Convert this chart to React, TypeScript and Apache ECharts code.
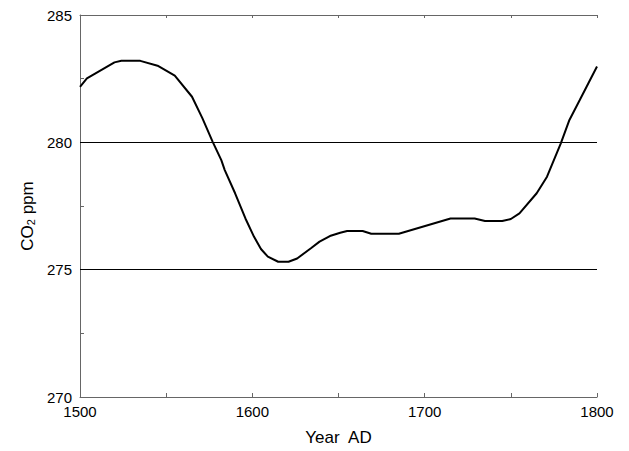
import React, { useEffect, useRef } from "react";
import * as echarts from "echarts";

const years = [1500, 1504, 1520, 1524, 1535, 1545, 1555, 1565, 1571, 1577, 1582, 1584, 1590, 1596, 1601, 1605, 1609, 1615, 1621, 1626, 1634, 1639, 1645, 1651, 1655, 1664, 1669, 1685, 1715, 1729, 1735, 1745, 1750, 1755, 1765, 1771, 1779, 1784, 1790, 1795, 1800];
const co2 = [282.18, 282.51, 283.14, 283.2, 283.2, 283.01, 282.62, 281.79, 280.95, 280.02, 279.3, 278.91, 278.0, 277.01, 276.29, 275.81, 275.51, 275.31, 275.31, 275.44, 275.84, 276.1, 276.32, 276.45, 276.52, 276.52, 276.41, 276.41, 277.01, 277.01, 276.91, 276.91, 276.99, 277.21, 278.0, 278.65, 279.96, 280.88, 281.66, 282.32, 282.98];
const refLines = [275, 280];
const yTickLabels = [270, 275, 280, 285];
const xTickLabels = [1500, 1600, 1700, 1800];

export default function App() {
  const ref = useRef<HTMLDivElement>(null);
  useEffect(() => {
    const chart = echarts.init(ref.current!, null, { renderer: "svg" });
    const font = "Liberation Sans, Arial, sans-serif";
    const axisGrey = "#666";
    chart.setOption({
      animation: false,
      backgroundColor: "#fff",
      grid: { left: 80, right: 32, top: 15, bottom: 54 },
      xAxis: [
        {
          type: "value",
          min: 1500,
          max: 1800,
          interval: 50,
          position: "bottom",
          name: "Year  AD",
          nameLocation: "middle",
          nameGap: 32,
          nameTextStyle: { fontFamily: font, fontSize: 17, color: "#000" },
          axisLine: { show: true, lineStyle: { color: axisGrey, width: 1 } },
          axisTick: { show: true, inside: true, length: 4, lineStyle: { color: axisGrey } },
          axisLabel: {
            fontFamily: font,
            fontSize: 15,
            color: "#000",
            margin: 7,
            formatter: (v: number) => (xTickLabels.includes(v) ? String(v) : ""),
          },
          splitLine: { show: false },
        },
        {
          type: "value",
          min: 1500,
          max: 1800,
          interval: 50,
          position: "top",
          axisLine: { show: true, lineStyle: { color: axisGrey, width: 1 } },
          axisTick: { show: true, inside: true, length: 3, lineStyle: { color: axisGrey } },
          axisLabel: { show: false },
          splitLine: { show: false },
        },
      ],
      yAxis: {
        type: "value",
        min: 270,
        max: 285,
        interval: 2.5,
        axisLine: { show: true, lineStyle: { color: axisGrey, width: 1 } },
        axisTick: { show: true, inside: true, length: 4, lineStyle: { color: axisGrey } },
        axisLabel: {
          fontFamily: font,
          fontSize: 15,
          color: "#000",
          margin: 8,
          formatter: (v: number) => (yTickLabels.includes(v) ? String(v) : ""),
        },
        splitLine: { show: false },
      },
      graphic: [
        {
          type: "text",
          x: 27,
          y: 216,
          rotation: Math.PI / 2,
          style: {
            text: "{a|CO}{b|2}{a| ppm}",
            align: "center",
            verticalAlign: "middle",
            fill: "#000",
            rich: {
              a: { fontFamily: font, fontSize: 17, fill: "#000" },
              b: { fontFamily: font, fontSize: 11, fill: "#000", padding: [8, 0, 0, 0] },
            },
          },
        },
      ],
      series: [
        {
          type: "line",
          data: years.map((y, i) => [y, co2[i]]),
          showSymbol: false,
          symbol: "none",
          lineStyle: { color: "#000", width: 2 },
          markLine: {
            silent: true,
            symbol: "none",
            label: { show: false },
            lineStyle: { color: "#000", width: 1, type: "solid" },
            data: refLines.map((v) => ({ yAxis: v })),
          },
        },
      ],
    });
    return () => chart.dispose();
  }, []);
  return <div ref={ref} style={{ width: 629, height: 451, position: "absolute", left: 0, top: 0 }} />;
}
